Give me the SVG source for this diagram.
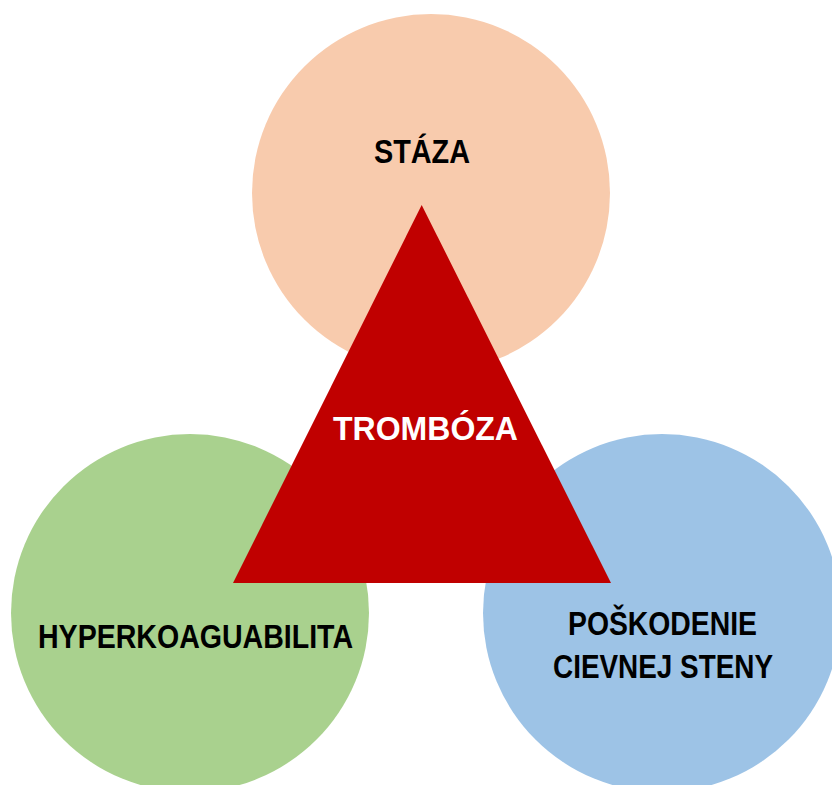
<svg xmlns="http://www.w3.org/2000/svg" width="832" height="785" viewBox="0 0 832 785">
<style>
.lbl{font-family:"Liberation Sans",Arial,sans-serif;font-weight:bold;font-size:33px;fill:#000;text-anchor:middle}
.w{fill:#fff}
</style>
<rect width="832" height="785" fill="#fff"/>
<g id="staza">
<circle cx="431" cy="193" r="179" fill="#F8CBAD"/>
<text class="lbl" x="422" y="163" textLength="96" lengthAdjust="spacingAndGlyphs">STÁZA</text>
</g>
<g id="hyperkoaguabilita">
<circle cx="190" cy="613" r="179" fill="#A9D18E"/>
<text class="lbl" x="195.5" y="648" textLength="315" lengthAdjust="spacingAndGlyphs">HYPERKOAGUABILITA</text>
</g>
<g id="poskodenie">
<circle cx="662" cy="613" r="179" fill="#9DC3E6"/>
<text class="lbl" x="662.5" y="635" textLength="189" lengthAdjust="spacingAndGlyphs">POŠKODENIE</text>
<text class="lbl" x="663" y="678" textLength="220" lengthAdjust="spacingAndGlyphs">CIEVNEJ STENY</text>
</g>
<g id="tromboza">
<polygon points="421.7,205 611,583 233,583" fill="#C00000"/>
<text class="lbl w" x="425.5" y="440" textLength="185" lengthAdjust="spacingAndGlyphs">TROMBÓZA</text>
</g>
</svg>
